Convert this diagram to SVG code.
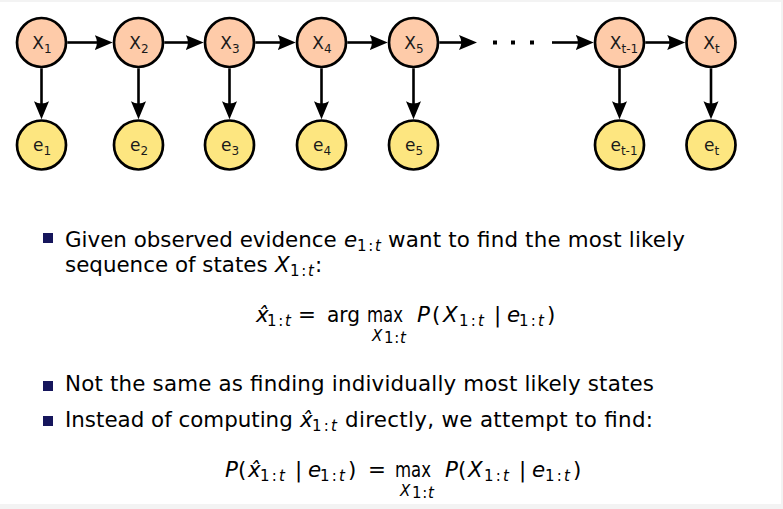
<svg xmlns="http://www.w3.org/2000/svg" width="783" height="509" viewBox="0 0 783 509">
<style>
.bg{fill:#ffffff}
.xn{fill:#fecba9;stroke:#000;stroke-width:2.7}
.en{fill:#fde680;stroke:#000;stroke-width:2.7}
.lbl{font-family:"DejaVu Sans",sans-serif;font-size:17px;fill:#1a1a1a;text-anchor:middle}
.sub{font-size:12px}
.edge{stroke:#000;stroke-width:2.6;fill:none}
.t{font-family:"DejaVu Sans",sans-serif;font-size:21.4px;fill:#000}
.m{font-family:"DejaVu Sans",sans-serif;font-size:21.4px;fill:#000}
.i{font-style:italic}
.s{font-family:"DejaVu Sans",sans-serif;font-size:15px;fill:#000}
.bul{fill:#16165c}
</style>
<defs>
<marker id="ah" markerUnits="userSpaceOnUse" viewBox="0 -8 20 16" markerWidth="20" markerHeight="16" refX="4" refY="0" orient="auto">
<path d="M18,0 L0,-7.5 Q4.5,0 0,7.5 Z" fill="#000"/>
</marker>
</defs>
<rect x="0" y="0" width="783" height="509" fill="#f3f3f3"/>
<rect class="bg" x="0" y="2" width="781" height="502"/>

<g id="connectors">
<line class="edge" x1="67.3" y1="42.5" x2="98.7" y2="42.5" marker-end="url(#ah)"/>
<line class="edge" x1="164.3" y1="42.5" x2="189.7" y2="42.5" marker-end="url(#ah)"/>
<line class="edge" x1="255.3" y1="42.5" x2="281.7" y2="42.5" marker-end="url(#ah)"/>
<line class="edge" x1="347.3" y1="42.5" x2="373.7" y2="42.5" marker-end="url(#ah)"/>
<line class="edge" x1="439.3" y1="42.5" x2="463" y2="42.5" marker-end="url(#ah)"/>
<line class="edge" x1="552" y1="42.5" x2="579.7" y2="42.5" marker-end="url(#ah)"/>
<line class="edge" x1="645.3" y1="42.5" x2="671.2" y2="42.5" marker-end="url(#ah)"/>
<line class="edge" x1="41.5" y1="68.3" x2="41.5" y2="105.2" marker-end="url(#ah)"/>
<line class="edge" x1="138.5" y1="68.3" x2="138.5" y2="105.2" marker-end="url(#ah)"/>
<line class="edge" x1="229.5" y1="68.3" x2="229.5" y2="105.2" marker-end="url(#ah)"/>
<line class="edge" x1="321.5" y1="68.3" x2="321.5" y2="105.2" marker-end="url(#ah)"/>
<line class="edge" x1="413.5" y1="68.3" x2="413.5" y2="105.2" marker-end="url(#ah)"/>
<line class="edge" x1="619.5" y1="68.3" x2="619.5" y2="105.2" marker-end="url(#ah)"/>
<line class="edge" x1="711" y1="68.3" x2="711" y2="105.2" marker-end="url(#ah)"/>
</g>
<g id="ellipsis" fill="#000">
<rect x="493" y="40.5" width="4" height="4"/>
<rect x="511" y="40.5" width="4" height="4"/>
<rect x="530" y="40.5" width="4" height="4"/>
</g>

<g id="X1"><circle class="xn" cx="41.5" cy="42.5" r="24.5"/><text class="lbl" x="42" y="48.5">X<tspan class="sub" dy="4">1</tspan></text></g>
<g id="X2"><circle class="xn" cx="138.5" cy="42.5" r="24.5"/><text class="lbl" x="139" y="48.5">X<tspan class="sub" dy="4">2</tspan></text></g>
<g id="X3"><circle class="xn" cx="229.5" cy="42.5" r="24.5"/><text class="lbl" x="230" y="48.5">X<tspan class="sub" dy="4">3</tspan></text></g>
<g id="X4"><circle class="xn" cx="321.5" cy="42.5" r="24.5"/><text class="lbl" x="322" y="48.5">X<tspan class="sub" dy="4">4</tspan></text></g>
<g id="X5"><circle class="xn" cx="413.5" cy="42.5" r="24.5"/><text class="lbl" x="414" y="48.5">X<tspan class="sub" dy="4">5</tspan></text></g>
<g id="Xt-1"><circle class="xn" cx="619.5" cy="42.5" r="24.5"/><text class="lbl" x="624" y="48.5">X<tspan class="sub" dy="4">t-1</tspan></text></g>
<g id="Xt"><circle class="xn" cx="711" cy="42.5" r="24.5"/><text class="lbl" x="711.5" y="48.5">X<tspan class="sub" dy="4">t</tspan></text></g>

<g id="e1"><circle class="en" cx="41.5" cy="145" r="24.5"/><text class="lbl" x="42" y="151">e<tspan class="sub" dy="4">1</tspan></text></g>
<g id="e2"><circle class="en" cx="138.5" cy="145" r="24.5"/><text class="lbl" x="139" y="151">e<tspan class="sub" dy="4">2</tspan></text></g>
<g id="e3"><circle class="en" cx="229.5" cy="145" r="24.5"/><text class="lbl" x="230" y="151">e<tspan class="sub" dy="4">3</tspan></text></g>
<g id="e4"><circle class="en" cx="321.5" cy="145" r="24.5"/><text class="lbl" x="322" y="151">e<tspan class="sub" dy="4">4</tspan></text></g>
<g id="e5"><circle class="en" cx="413.5" cy="145" r="24.5"/><text class="lbl" x="414" y="151">e<tspan class="sub" dy="4">5</tspan></text></g>
<g id="et-1"><circle class="en" cx="619.5" cy="145" r="24.5"/><text class="lbl" x="624" y="151">e<tspan class="sub" dy="4">t-1</tspan></text></g>
<g id="et"><circle class="en" cx="711" cy="145" r="24.5"/><text class="lbl" x="711.5" y="151">e<tspan class="sub" dy="4">t</tspan></text></g>

<g id="text">
<rect class="bul" x="43" y="233" width="10" height="10"/>
<text class="t" x="65" y="247">Given observed evidence</text>
<text class="m i" x="344" y="247">e</text>
<text class="s" x="357" y="251" textLength="24" lengthAdjust="spacing">1:<tspan class="i">t</tspan></text>
<text class="t" x="388" y="247" textLength="297" lengthAdjust="spacing">want to find the most likely</text>

<text class="t" x="65" y="272">sequence of states</text>
<text class="m i" x="275" y="272">X</text>
<text class="s" x="290" y="276" textLength="24" lengthAdjust="spacing">1:<tspan class="i">t</tspan></text>
<text class="m" x="315" y="272">:</text>

<text class="m i" x="256" y="322">x̂</text>
<text class="s" x="267" y="326" textLength="24" lengthAdjust="spacing">1:<tspan class="i">t</tspan></text>
<text class="m" x="298" y="322">=</text>
<text class="m" x="327" y="322" textLength="33" lengthAdjust="spacingAndGlyphs">arg</text>
<text class="m" x="367" y="322" textLength="36" lengthAdjust="spacingAndGlyphs">max</text>
<text class="s i" x="372" y="341">X</text>
<text class="s" x="384" y="343" font-size="12" textLength="22" lengthAdjust="spacing">1:<tspan class="i">t</tspan></text>
<text class="m i" x="417" y="322">P</text>
<text class="m" x="432" y="322">(</text>
<text class="m i" x="443" y="322">X</text>
<text class="s" x="459" y="326" textLength="25" lengthAdjust="spacing">1:<tspan class="i">t</tspan></text>
<text class="m" x="494" y="322">|</text>
<text class="m i" x="507" y="322">e</text>
<text class="s" x="519" y="326" textLength="25" lengthAdjust="spacing">1:<tspan class="i">t</tspan></text>
<text class="m" x="547" y="322">)</text>

<rect class="bul" x="43" y="381" width="10" height="10"/>
<text class="t" x="65" y="391" textLength="589" lengthAdjust="spacing">Not the same as finding individually most likely states</text>

<rect class="bul" x="43" y="416" width="10" height="10"/>
<text class="t" x="65" y="427">Instead of computing</text>
<text class="m i" x="300" y="427">x̂</text>
<text class="s" x="312" y="431" textLength="25" lengthAdjust="spacing">1:<tspan class="i">t</tspan></text>
<text class="t" x="345" y="427" textLength="308" lengthAdjust="spacing">directly, we attempt to find:</text>

<text class="m i" x="225" y="477">P</text>
<text class="m" x="238" y="477">(</text>
<text class="m i" x="248" y="477">x̂</text>
<text class="s" x="260" y="481" textLength="25" lengthAdjust="spacing">1:<tspan class="i">t</tspan></text>
<text class="m" x="295" y="477">|</text>
<text class="m i" x="308" y="477">e</text>
<text class="s" x="320" y="481" textLength="25" lengthAdjust="spacing">1:<tspan class="i">t</tspan></text>
<text class="m" x="348" y="477">)</text>
<text class="m" x="368" y="477">=</text>
<text class="m" x="395" y="477" textLength="36" lengthAdjust="spacingAndGlyphs">max</text>
<text class="s i" x="400" y="496">X</text>
<text class="s" x="412" y="498" font-size="12" textLength="22" lengthAdjust="spacing">1:<tspan class="i">t</tspan></text>
<text class="m i" x="445" y="477">P</text>
<text class="m" x="458" y="477">(</text>
<text class="m i" x="468" y="477">X</text>
<text class="s" x="484" y="481" textLength="25" lengthAdjust="spacing">1:<tspan class="i">t</tspan></text>
<text class="m" x="519" y="477">|</text>
<text class="m i" x="532" y="477">e</text>
<text class="s" x="545" y="481" textLength="25" lengthAdjust="spacing">1:<tspan class="i">t</tspan></text>
<text class="m" x="573" y="477">)</text>
</g>
</svg>
